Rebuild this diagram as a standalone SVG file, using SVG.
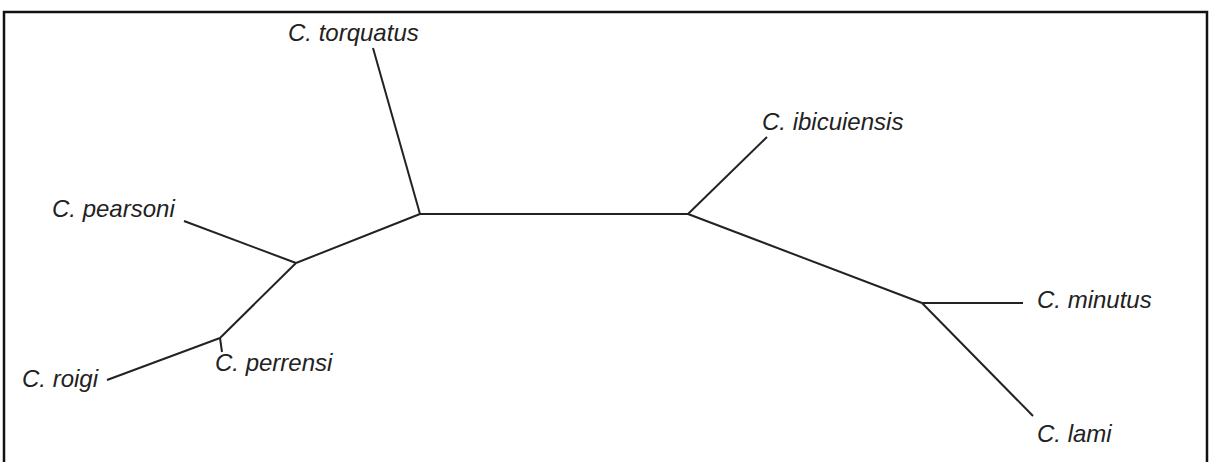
<svg xmlns="http://www.w3.org/2000/svg" width="1210" height="462" viewBox="0 0 1210 462">
  <style>
    .frame { fill: none; stroke: #111; stroke-width: 2.5; }
    .branch { fill: none; stroke: #222; stroke-width: 2; stroke-linecap: butt; stroke-linejoin: miter; }
    .taxon { font-family: "Liberation Sans", Arial, sans-serif; font-style: italic; font-size: 24px; fill: #222; }
  </style>
  <rect width="1210" height="462" fill="#fff"/>
  <!-- outer frame (open at the bottom) -->
  <path class="frame" d="M4,462 V12 H1207 V462"/>

  <!-- unrooted tree branches -->
  <g id="connectors">
    <path class="branch" d="M420,214 H688"/>
    <path class="branch" d="M420,214 L373,48"/>
    <path class="branch" d="M420,214 L296,263"/>
    <path class="branch" d="M296,263 L184,221"/>
    <path class="branch" d="M296,263 L220,338"/>
    <path class="branch" d="M220,338 L107,380"/>
    <path class="branch" d="M220,338 L222,352"/>
    <path class="branch" d="M688,214 L767,137"/>
    <path class="branch" d="M688,214 L922,303"/>
    <path class="branch" d="M922,303 H1023"/>
    <path class="branch" d="M922,303 L1033,416"/>
  </g>

  <!-- leaf labels -->
  <g id="torquatus"><text class="taxon" x="288" y="41">C. torquatus</text></g>
  <g id="pearsoni"><text class="taxon" x="52" y="217">C. pearsoni</text></g>
  <g id="roigi"><text class="taxon" x="22" y="387">C. roigi</text></g>
  <g id="perrensi"><text class="taxon" x="215" y="371">C. perrensi</text></g>
  <g id="ibicuiensis"><text class="taxon" x="762" y="130">C. ibicuiensis</text></g>
  <g id="minutus"><text class="taxon" x="1037" y="308">C. minutus</text></g>
  <g id="lami"><text class="taxon" x="1037" y="442">C. lami</text></g>
</svg>
